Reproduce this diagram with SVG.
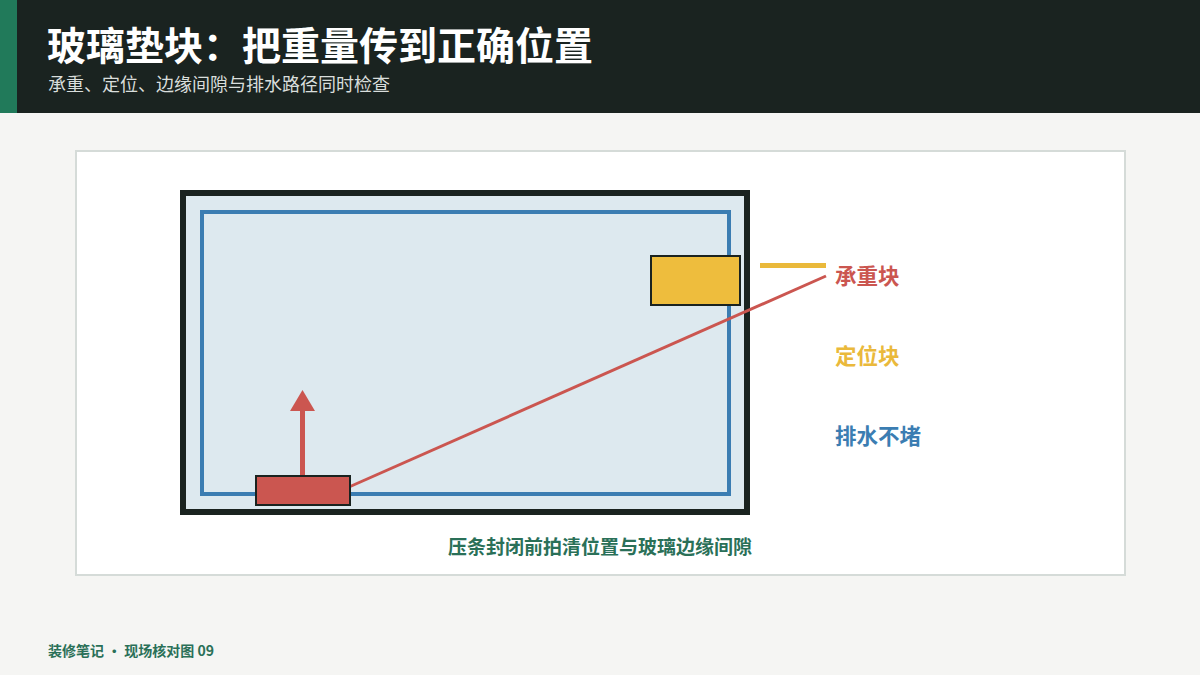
<svg xmlns="http://www.w3.org/2000/svg" width="1200" height="675" viewBox="0 0 1200 675">
<style>
.cjk{font-family:"Noto Sans CJK SC","Noto Sans",sans-serif}
.b{font-weight:700}
.lbl{font-size:21.5px;font-weight:700}
</style>
<rect width="1200" height="675" fill="#f5f5f3"/>
<g id="header">
<rect width="1200" height="113" fill="#1a2320"/>
<rect width="17" height="113" fill="#217a5a"/>
<text x="47" y="60" class="cjk b" font-size="39" fill="#ffffff">玻璃垫块：把重量传到正确位置</text>
<text x="48" y="91" class="cjk" font-size="18" fill="#d9dedc">承重、定位、边缘间隙与排水路径同时检查</text>
</g>
<g id="panel">
<rect x="76" y="151" width="1049" height="424" fill="#ffffff" stroke="#d5dbd8" stroke-width="2"/>
</g>
<g id="frame">
<rect x="183" y="193" width="564" height="319" fill="#dde9ef" stroke="#1a2320" stroke-width="6"/>
<rect x="202" y="212" width="527" height="282" fill="none" stroke="#3b7db2" stroke-width="4"/>
</g>
<g id="connectors">
<line x1="349" y1="487" x2="826" y2="276" stroke="#cb5650" stroke-width="3"/>
<line x1="760" y1="265.5" x2="826" y2="265.5" stroke="#eab93b" stroke-width="5"/>
<line x1="302.5" y1="476" x2="302.5" y2="411" stroke="#cb5650" stroke-width="5"/>
<path d="M302.5,390 L290,411 L315,411 Z" fill="#cb5650"/>
</g>
<g id="setting-block">
<rect x="256" y="476" width="94" height="29" fill="#cb5650" stroke="#1a2320" stroke-width="2"/>
</g>
<g id="location-block">
<rect x="651" y="256" width="89" height="49" fill="#eebd3d" stroke="#1a2320" stroke-width="2"/>
</g>
<g id="label-load">
<text x="835" y="284" class="cjk lbl" fill="#cb5650">承重块</text>
</g>
<g id="label-locate">
<text x="835" y="364" class="cjk lbl" fill="#eab93b">定位块</text>
</g>
<g id="label-drain">
<text x="835" y="444" class="cjk lbl" fill="#3b7db2">排水不堵</text>
</g>
<g id="caption">
<text x="600" y="554" text-anchor="middle" class="cjk b" font-size="19" fill="#2a7058">压条封闭前拍清位置与玻璃边缘间隙</text>
</g>
<g id="footer">
<text x="48" y="656" class="cjk b" font-size="14" fill="#2a7058">装修笔记 • 现场核对图 09</text>
</g>
</svg>
